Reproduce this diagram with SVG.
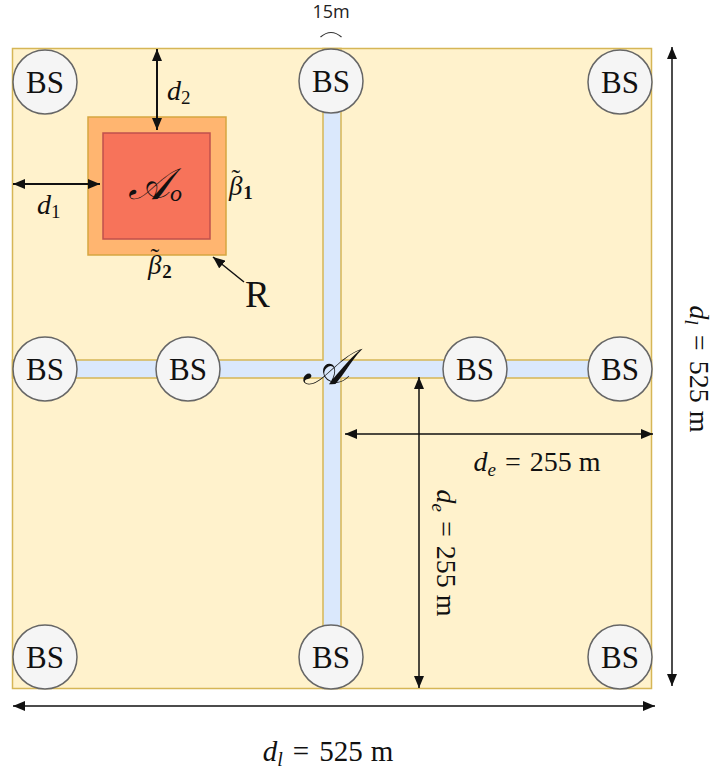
<svg xmlns="http://www.w3.org/2000/svg" width="717" height="772" viewBox="0 0 717 772">
  <style>
    .area { fill: #fff2cc; stroke: #d6b656; stroke-width: 1.5; }
    .road { fill: #dae8fc; stroke: #d6b656; stroke-width: 1.5; }
    .roadfill { fill: #dae8fc; stroke: none; }
    .bs circle { fill: #f5f5f5; stroke: #666666; stroke-width: 1.5; }
    .bs text { font-family: "Liberation Serif", "DejaVu Serif", serif; font-size: 31px; fill: #111; text-anchor: middle; }
    .math { font-family: "Liberation Serif", "DejaVu Serif", serif; fill: #111; }
    .it { font-style: italic; }
    .dim { stroke: #111; stroke-width: 1.5; fill: none; }
    .dimb { stroke: #111; stroke-width: 2; fill: none; }
  </style>
  <defs>
    <marker id="ah" viewBox="0 0 12 10" refX="12" refY="5" markerWidth="12" markerHeight="10" markerUnits="userSpaceOnUse" orient="auto-start-reverse">
      <path d="M0 0 L12 5 L0 10 Z" fill="#111"/>
    </marker>
  </defs>

  <!-- deployment area -->
  <g id="area">
    <rect class="area" x="12.5" y="48.5" width="639" height="640"/>
  </g>

  <!-- road cross -->
  <g id="roads">
    <rect class="road" x="323" y="48.5" width="18" height="640"/>
    <rect class="road" x="12.5" y="360" width="639" height="18"/>
    <rect class="roadfill" x="323.8" y="359" width="16.4" height="20"/>
  </g>

  <!-- obstacle with its margin -->
  <g id="obstacle">
    <rect x="88" y="117" width="138" height="138" fill="#ffb570" stroke="#d6a640" stroke-width="1.5"/>
    <rect x="103" y="133" width="107" height="106" fill="#f7735a" stroke="#c0504d" stroke-width="1.5"/>
    <text class="math" x="128" y="199" font-size="44"><tspan class="it">𝒜</tspan><tspan class="it" font-size="24" dy="2">o</tspan></text>
  </g>

  <!-- base stations -->
  <g id="bs1" class="bs"><circle cx="45" cy="82" r="32"/><text x="45" y="93">BS</text></g>
  <g id="bs2" class="bs"><circle cx="331" cy="81" r="32"/><text x="331" y="92">BS</text></g>
  <g id="bs3" class="bs"><circle cx="620" cy="82" r="32"/><text x="620" y="93">BS</text></g>
  <g id="bs4" class="bs"><circle cx="45" cy="369" r="32"/><text x="45" y="380">BS</text></g>
  <g id="bs5" class="bs"><circle cx="188" cy="369" r="32"/><text x="188" y="380">BS</text></g>
  <g id="bs6" class="bs"><circle cx="475" cy="369" r="32"/><text x="475" y="380">BS</text></g>
  <g id="bs7" class="bs"><circle cx="620" cy="369" r="32"/><text x="620" y="380">BS</text></g>
  <g id="bs8" class="bs"><circle cx="45" cy="657" r="32"/><text x="45" y="668">BS</text></g>
  <g id="bs9" class="bs"><circle cx="331" cy="657" r="32"/><text x="331" y="668">BS</text></g>
  <g id="bs10" class="bs"><circle cx="620" cy="657" r="32"/><text x="620" y="668">BS</text></g>

  <!-- connectors and dimension lines -->
  <g id="connectors">
    <line class="dimb" x1="157" y1="49" x2="157" y2="130" marker-start="url(#ah)" marker-end="url(#ah)"/>
    <line class="dimb" x1="13" y1="184" x2="100" y2="184" marker-start="url(#ah)" marker-end="url(#ah)"/>
    <line class="dim" x1="244" y1="282" x2="213" y2="257" marker-end="url(#ah)"/>
    <line class="dim" x1="345" y1="434" x2="653" y2="434" marker-start="url(#ah)" marker-end="url(#ah)"/>
    <line class="dim" x1="419" y1="377" x2="419" y2="688" marker-start="url(#ah)" marker-end="url(#ah)"/>
    <line class="dim" x1="672" y1="47" x2="672" y2="686" marker-start="url(#ah)" marker-end="url(#ah)"/>
    <line class="dim" x1="13" y1="706" x2="655" y2="706" marker-start="url(#ah)" marker-end="url(#ah)"/>
    <path d="M320.5 37 Q331 28 341.5 37" fill="none" stroke="#333" stroke-width="1.2"/>
  </g>

  <!-- labels -->
  <g id="labels">
    <text x="331" y="18" font-family="'Open Sans', 'Liberation Sans', sans-serif" font-size="18" fill="#222" text-anchor="middle">15m</text>
    <text class="math" x="167" y="100" font-size="28"><tspan class="it">d</tspan><tspan font-size="19" dy="4">2</tspan></text>
    <text class="math" x="37" y="214" font-size="28"><tspan class="it">d</tspan><tspan font-size="19" dy="4">1</tspan></text>
    <text class="math" x="229" y="195" font-size="27"><tspan class="it">β</tspan><tspan font-size="26" dx="-11" dy="-8">˜</tspan><tspan font-size="19" font-weight="bold" dx="3" dy="12">1</tspan></text>
    <text class="math" x="148" y="274" font-size="27"><tspan class="it">β</tspan><tspan font-size="26" dx="-11" dy="-8">˜</tspan><tspan font-size="19" font-weight="bold" dx="3" dy="12">2</tspan></text>
    <text class="math" x="245" y="307" font-size="37">R</text>
    <text class="math it" x="325" y="384" font-size="50" text-anchor="middle">𝒜</text>
    <text class="math" x="537" y="471" font-size="28" text-anchor="middle"><tspan class="it">d</tspan><tspan class="it" font-size="19" dy="5">e</tspan><tspan dy="-5" dx="9">=</tspan><tspan dx="9">255</tspan><tspan dx="7">m</tspan></text>
    <text class="math" x="328" y="761" font-size="29" text-anchor="middle"><tspan class="it">d</tspan><tspan class="it" font-size="20" dy="5">l</tspan><tspan dy="-5" dx="10">=</tspan><tspan dx="10">525</tspan><tspan dx="8">m</tspan></text>
    <text class="math" transform="translate(437 553) rotate(90)" font-size="28" text-anchor="middle"><tspan class="it">d</tspan><tspan class="it" font-size="19" dy="5">e</tspan><tspan dy="-5" dx="9">=</tspan><tspan dx="9">255</tspan><tspan dx="7">m</tspan></text>
    <text class="math" transform="translate(690 369) rotate(90)" font-size="28" text-anchor="middle"><tspan class="it">d</tspan><tspan class="it" font-size="19" dy="5">l</tspan><tspan dy="-5" dx="10">=</tspan><tspan dx="10">525</tspan><tspan dx="8">m</tspan></text>
  </g>
</svg>
